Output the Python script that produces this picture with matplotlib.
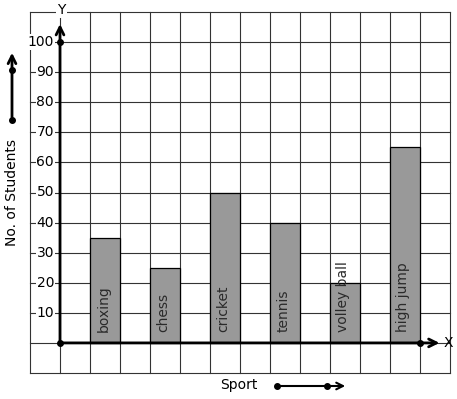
import matplotlib
matplotlib.use("Agg")
import matplotlib.pyplot as plt

# === DADOS ===
esportes = ["boxing", "chess", "cricket", "tennis", "volley ball", "high jump"]
alunos = [35, 25, 50, 40, 20, 65]
posicoes = [1, 3, 5, 7, 9, 11]          # coluna da grade onde começa cada barra
yticks = [10, 20, 30, 40, 50, 60, 70, 80, 90, 100]

W, H = 457, 399
fig = plt.figure(figsize=(W / 100, H / 100), dpi=100)

# eixo cobre só a grade: x de 30 a 450 px, y de 12 a 373 px
ax = fig.add_axes([30 / W, (H - 373) / H, 420 / W, 361 / H])
ax.set_xlim(-1, 13)
ax.set_ylim(-10, 110)
ax.axis("off")

cor_grade = "#333333"
for gx in range(-1, 14):
    ax.plot([gx, gx], [-10, 110], color=cor_grade, lw=0.8, clip_on=False, zorder=1)
for gy in range(-10, 111, 10):
    ax.plot([-1, 13], [gy, gy], color=cor_grade, lw=0.8, clip_on=False, zorder=1)

# barras
ax.bar(posicoes, alunos, width=1, align="edge", color="#999999",
       edgecolor="black", lw=0.9, zorder=2)
for p, nome in zip(posicoes, esportes):
    ax.text(p + 0.45, 3.5, nome, rotation=90, ha="center", va="bottom",
            fontsize=10, color="#2a2a2a", zorder=3)

# eixos com setas
seta = dict(arrowstyle="->", lw=2, color="black", mutation_scale=14,
            shrinkA=0, shrinkB=0)
ax.annotate("", xy=(0, 106), xytext=(0, 0), arrowprops=seta, zorder=4,
            annotation_clip=False)
ax.annotate("", xy=(12.65, 0), xytext=(0, 0), arrowprops=seta, zorder=4,
            annotation_clip=False)
ax.plot([0, 0, 12], [0, 100, 0], "o", color="black", ms=4, zorder=5)

ax.text(0.05, 110.7, "Y", ha="center", va="center", fontsize=10,
        bbox=dict(facecolor="white", edgecolor="none", pad=1), zorder=4)
ax.text(12.8, 0, "X", ha="left", va="center", fontsize=10, zorder=4)

for v in yticks:
    ax.text(-0.2, v, str(v), ha="right", va="center", fontsize=10,
            bbox=dict(facecolor="white", edgecolor="none", pad=0.5), zorder=3)

# rótulos externos
fig.text(12 / W, 1 - 193 / H, "No. of Students", rotation=90,
         ha="center", va="center", fontsize=10)
fig.text(239 / W, 1 - 385 / H, "Sport", ha="center", va="center", fontsize=10)

# setinhas decorativas
fig.add_artist(matplotlib.patches.FancyArrowPatch(
    (12 / W, 1 - 120 / H), (12 / W, 1 - 50 / H), transform=fig.transFigure,
    arrowstyle="->", lw=2, color="black", mutation_scale=14))
fig.add_artist(matplotlib.patches.FancyArrowPatch(
    (277 / W, 1 - 386 / H), (348 / W, 1 - 386 / H), transform=fig.transFigure,
    arrowstyle="->", lw=1.5, color="black", mutation_scale=12))
fig.add_artist(matplotlib.lines.Line2D(
    [12 / W, 12 / W, 277 / W, 327 / W],
    [1 - 120 / H, 1 - 70 / H, 1 - 386 / H, 1 - 386 / H],
    transform=fig.transFigure, ls="none", marker="o", ms=4, color="black"))

fig.savefig("out.png", dpi=100)
